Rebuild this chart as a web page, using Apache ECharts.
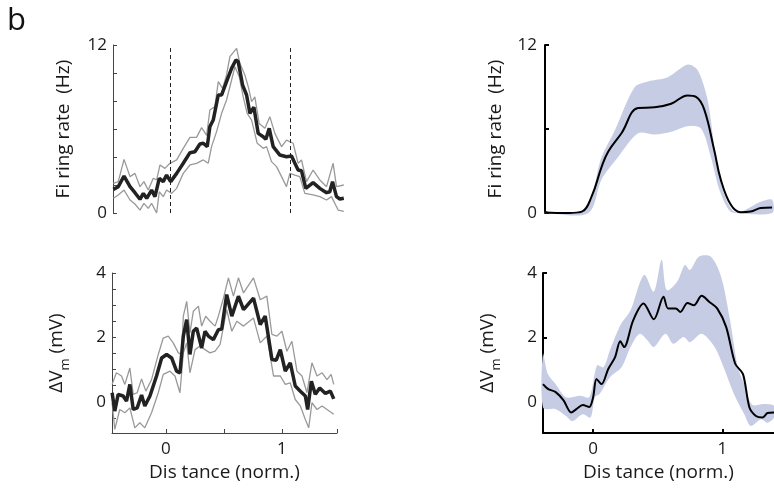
<!DOCTYPE html>
<html>
<head>
<meta charset="utf-8">
<script src="https://cdn.jsdelivr.net/npm/echarts@6/dist/echarts.min.js"></script>
<style>
html, body { margin: 0; padding: 0; background: #fff; }
#map { width: 774px; height: 491px; }
</style>
</head>
<body>
<div id="map"></div>
<script>
// top left: firing rate, mean and the two gray lines
let rateMean = [[-0.472,1.69],[-0.431,1.88],[-0.383,2.64],[-0.333,1.88],[-0.292,1.45],[-0.25,0.98],[-0.222,1.4],[-0.194,1.05],[-0.153,1.64],[-0.125,1.17],[-0.089,2.48],[-0.056,2.24],[-0.028,2.71],[0.006,2.24],[0.056,2.83],[0.111,3.55],[0.167,4.31],[0.208,4.38],[0.25,4.93],[0.278,4.98],[0.311,4.74],[0.333,6.17],[0.361,6.64],[0.403,8.43],[0.431,8.43],[0.472,9.38],[0.514,10.33],[0.55,10.93],[0.569,10.81],[0.606,9.14],[0.639,8.43],[0.667,7.12],[0.7,7.55],[0.736,5.69],[0.778,5.45],[0.8,5.26],[0.828,6.05],[0.861,4.74],[0.917,4.14],[0.972,4.02],[1.014,4.07],[1.042,3.55],[1.069,3.07],[1.097,3.02],[1.133,1.76],[1.194,2.17],[1.25,1.76],[1.306,1.45],[1.333,1.52],[1.356,2.24],[1.389,1.17],[1.417,1.0],[1.45,1.05]];
let rateHigh = [[-0.472,2.12],[-0.431,2.24],[-0.383,3.83],[-0.333,2.6],[-0.292,2.83],[-0.25,1.88],[-0.217,2.24],[-0.181,1.64],[-0.139,2.48],[-0.111,2.36],[-0.083,3.43],[-0.042,3.19],[0,3.55],[0.056,3.79],[0.111,4.62],[0.167,5.4],[0.222,5.4],[0.264,6.1],[0.306,5.55],[0.333,7.36],[0.375,7.6],[0.403,9.38],[0.439,8.9],[0.472,9.86],[0.5,11.17],[0.556,11.76],[0.583,10.69],[0.625,9.86],[0.653,9.02],[0.681,7.95],[0.708,8.3],[0.744,6.4],[0.792,6.05],[0.833,6.88],[0.875,5.69],[0.931,4.74],[0.972,5.21],[1.028,4.98],[1.069,3.55],[1.097,3.79],[1.139,2.24],[1.194,3.07],[1.25,2.36],[1.306,1.88],[1.361,3.55],[1.389,1.88],[1.45,2.0]];
let rateLow = [[-0.472,1.05],[-0.431,1.29],[-0.383,1.64],[-0.333,0.93],[-0.292,0.64],[-0.25,0.21],[-0.217,0.69],[-0.181,0.33],[-0.153,0.69],[-0.111,0.0],[-0.089,1.52],[-0.056,1.17],[-0.028,1.64],[0.014,1.4],[0.056,1.76],[0.111,2.83],[0.167,3.43],[0.222,3.55],[0.278,3.79],[0.319,3.55],[0.347,4.74],[0.389,5.81],[0.431,7.12],[0.472,8.07],[0.514,9.5],[0.542,10.45],[0.578,9.74],[0.611,8.3],[0.644,7.12],[0.681,6.64],[0.728,4.98],[0.778,4.62],[0.806,4.74],[0.847,3.67],[0.889,3.31],[0.931,2.6],[0.972,1.88],[1.0,2.83],[1.042,2.71],[1.083,2.6],[1.125,1.4],[1.194,1.29],[1.25,1.17],[1.306,0.93],[1.347,1.17],[1.403,0.21],[1.45,0.12]];

// bottom left: delta Vm
let vmMean = [[-0.464,0.28],[-0.441,-0.29],[-0.412,0.23],[-0.369,0.18],[-0.34,0.02],[-0.311,0.54],[-0.282,-0.24],[-0.248,-0.19],[-0.21,0.21],[-0.182,-0.13],[-0.138,0.18],[-0.081,0.8],[-0.037,1.36],[0.006,1.47],[0.049,1.36],[0.092,0.95],[0.121,0.9],[0.15,2.04],[0.179,2.55],[0.207,1.47],[0.236,2.19],[0.265,2.29],[0.308,1.67],[0.337,2.19],[0.366,2.04],[0.409,1.93],[0.452,2.24],[0.481,2.26],[0.524,3.33],[0.568,2.66],[0.625,3.28],[0.669,2.86],[0.755,3.22],[0.813,2.4],[0.856,2.66],[0.914,1.31],[0.951,1.29],[0.986,1.62],[1.029,0.95],[1.072,1.21],[1.115,0.49],[1.159,0.33],[1.202,0.18],[1.222,-0.24],[1.254,0.64],[1.288,0.23],[1.326,0.43],[1.375,0.26],[1.418,0.33],[1.447,0.09]];
let vmHigh = [[-0.464,0.54],[-0.427,0.9],[-0.383,0.8],[-0.354,0.54],[-0.311,1.05],[-0.282,0.23],[-0.248,0.28],[-0.21,0.71],[-0.173,0.33],[-0.124,0.69],[-0.066,1.47],[-0.023,1.98],[0.02,2.04],[0.063,1.83],[0.107,1.52],[0.135,1.47],[0.15,2.66],[0.179,3.12],[0.207,2.14],[0.236,2.81],[0.28,2.97],[0.308,2.35],[0.343,2.66],[0.38,2.5],[0.424,2.35],[0.452,2.66],[0.496,3.22],[0.539,3.85],[0.582,3.28],[0.625,3.85],[0.669,3.38],[0.755,3.85],[0.813,3.17],[0.87,3.28],[0.914,2.09],[0.957,2.04],[1.0,2.19],[1.043,1.57],[1.086,1.88],[1.13,0.95],[1.173,0.8],[1.216,0.28],[1.259,1.21],[1.303,0.8],[1.346,0.9],[1.389,0.69],[1.424,0.85],[1.447,0.54]];
let vmLow = [[-0.464,-0.03],[-0.441,-0.86],[-0.398,-0.24],[-0.354,-0.34],[-0.311,-0.19],[-0.268,-0.81],[-0.225,-0.65],[-0.182,-0.81],[-0.124,-0.34],[-0.066,0.28],[-0.023,0.85],[0.035,0.95],[0.078,0.8],[0.121,0.28],[0.15,1.52],[0.179,1.83],[0.207,0.9],[0.251,1.62],[0.294,1.73],[0.337,1.62],[0.38,1.52],[0.424,1.57],[0.467,1.78],[0.524,2.86],[0.568,2.19],[0.611,2.5],[0.669,2.35],[0.755,2.6],[0.813,1.83],[0.87,2.04],[0.928,0.8],[0.986,0.8],[1.029,0.54],[1.072,0.59],[1.115,0.07],[1.159,-0.13],[1.202,-0.55],[1.231,-0.81],[1.259,-0.03],[1.303,-0.24],[1.346,-0.13],[1.389,-0.24],[1.447,-0.39]];

// top right: model firing rate with band
let modelRate = [[-0.388,0.1],[-0.36,0.02],[-0.2,0],[-0.1,0.1],[-0.023,1.2],[0.054,3.3],[0.106,4.4],[0.209,5.7],[0.339,7.5],[0.468,7.55],[0.597,7.8],[0.726,8.4],[0.791,8.3],[0.855,7.4],[0.933,4.5],[0.984,2.4],[1.062,0.6],[1.14,0.05],[1.217,0.1],[1.295,0.35],[1.385,0.4]];
let modelRateHigh = [[-0.388,0.1],[-0.08,0.15],[0.054,4.0],[0.157,5.9],[0.313,9.0],[0.416,9.4],[0.571,9.7],[0.726,10.6],[0.804,10.2],[0.881,8.1],[0.946,4.0],[1.01,1.4],[1.088,0.1],[1.17,0.2],[1.295,0.8],[1.385,0.95]];
let modelRateLow = [[-0.388,0],[-0.05,0],[0.054,2.4],[0.183,4.0],[0.339,5.7],[0.468,5.6],[0.597,5.8],[0.726,6.2],[0.829,6.05],[0.907,4.0],[0.972,1.7],[1.049,0.2],[1.1,0],[1.385,0]];

// bottom right: model delta Vm with band
let modelVm = [[-0.388,0.55],[-0.35,0.4],[-0.29,0.3],[-0.23,0.05],[-0.17,-0.33],[-0.13,-0.23],[-0.08,-0.1],[-0.03,-0.16],[0.0,0.14],[0.026,0.71],[0.065,0.55],[0.117,1.02],[0.17,1.39],[0.21,1.88],[0.24,1.7],[0.31,2.53],[0.39,3.05],[0.47,2.56],[0.545,3.26],[0.58,2.9],[0.64,2.9],[0.675,2.79],[0.73,3.07],[0.78,3.0],[0.84,3.29],[0.9,3.1],[0.96,2.9],[1.03,2.32],[1.1,1.18],[1.16,0.86],[1.21,-0.18],[1.26,-0.44],[1.31,-0.49],[1.35,-0.35],[1.4,-0.33]];
let modelVmHigh = [[-0.388,1.49],[-0.35,0.86],[-0.29,0.55],[-0.21,0.14],[-0.1,0.19],[-0.03,0.14],[0.03,1.13],[0.08,1.07],[0.13,1.6],[0.21,2.38],[0.29,2.84],[0.36,3.68],[0.4,3.94],[0.47,3.42],[0.53,4.41],[0.57,3.47],[0.65,3.73],[0.71,4.25],[0.75,4.09],[0.82,4.51],[0.91,4.51],[0.99,3.89],[1.06,2.53],[1.12,1.07],[1.17,0.55],[1.23,-0.09],[1.32,-0.07],[1.4,-0.13]];
let modelVmLow = [[-0.388,-0.18],[-0.29,-0.23],[-0.21,-0.44],[-0.16,-0.6],[-0.08,-0.39],[-0.02,-0.49],[0.013,0.14],[0.05,0.24],[0.13,0.76],[0.22,1.07],[0.29,1.7],[0.36,2.11],[0.42,1.91],[0.47,1.7],[0.56,2.11],[0.62,1.8],[0.7,2.01],[0.75,1.85],[0.84,2.11],[0.94,1.7],[1.01,1.07],[1.09,0.24],[1.17,-0.39],[1.22,-0.75],[1.3,-0.54],[1.35,-0.65],[1.4,-0.49]];

let rateTicks = [0, 2, 4, 6, 8, 10, 12];
let vmTicks = [-0.5, 0, 0.5, 1, 1.5, 2, 2.5, 3, 3.5, 4];

let font = 'Open Sans';
let gray = '#444';
let bandColor = '#c6cce4';

let myChart = echarts.init(document.getElementById('map'));

function yAx(i, min, max, ticks, labels, name, col, w, gap) {
    return {
        gridIndex: i, type: 'value', min: min, max: max,
        axisLine: { show: true, onZero: false, lineStyle: { color: col, width: w } },
        axisTick: { show: true, inside: true, length: 4, customValues: ticks, lineStyle: { color: col, width: w } },
        axisLabel: { customValues: labels, fontSize: 17, color: '#1a1a1a', fontFamily: font, margin: gap },
        splitLine: { show: false },
        name: name, nameLocation: 'middle', nameGap: 40,
        nameTextStyle: { fontSize: 19, color: '#1a1a1a', fontFamily: font,
            rich: { s: { fontSize: 13, fontFamily: font, color: '#1a1a1a', verticalAlign: 'bottom', lineHeight: 31 } } }
    };
}
function xAx(i, min, max, ticks, col, w) {
    let show = !!ticks;
    return {
        gridIndex: i, type: 'value', min: min, max: max,
        axisLine: { show: show, onZero: false, lineStyle: { color: col, width: w } },
        axisTick: { show: show, inside: true, length: 4, customValues: ticks || [], lineStyle: { color: col, width: w } },
        axisLabel: { show: show, customValues: [0, 1], fontSize: 17, color: '#1a1a1a', fontFamily: font, margin: 8 },
        splitLine: { show: false },
        name: show ? 'Dis tance (norm.)' : '', nameLocation: 'middle', nameGap: 30,
        nameTextStyle: { fontSize: 19, color: '#1a1a1a', fontFamily: font }
    };
}
function line(i, data, color, width, smooth) {
    return {
        type: 'line', xAxisIndex: i, yAxisIndex: i, data: data, symbol: 'none',
        smooth: smooth || false, z: 3, silent: true,
        lineStyle: { color: color, width: width }
    };
}
function band(i, high, low) {
    return {
        type: 'custom', xAxisIndex: i, yAxisIndex: i, silent: true, z: 1,
        data: [[0, 0]],
        renderItem(params, api) {
            let pts = high.map(p => api.coord(p)).concat(low.slice().reverse().map(p => api.coord(p)));
            return { type: 'polygon', shape: { points: pts, smooth: 0.3 }, style: { fill: bandColor } };
        }
    };
}
function dashes(s, top, bottom) {
    s.markLine = {
        silent: true, symbol: 'none', label: { show: false },
        lineStyle: { color: '#222', width: 1, type: [4, 3] },
        data: [
            [{ coord: [0, bottom] }, { coord: [0, top] }],
            [{ coord: [1, bottom] }, { coord: [1, top] }]
        ]
    };
    return s;
}

let option = {
    animation: false,
    grid: [
        { left: 113, top: 45, width: 232, height: 168 },
        { left: 112, top: 273, width: 225, height: 160 },
        { left: 545, top: 45, width: 229, height: 168 },
        { left: 543, top: 273, width: 231, height: 160 }
    ],
    xAxis: [
        xAx(0, -0.475, 1.46, null, gray, 1),
        xAx(1, -0.465, 1.475, [0, 0.5, 1, 1.475], gray, 1),
        xAx(2, -0.388, 1.4, null, '#000', 2),
        xAx(3, -0.388, 1.4, [0, 1], '#000', 2)
    ],
    yAxis: [
        yAx(0, 0, 12, rateTicks, [0, 12], 'Fi ring rate  (Hz)', gray, 1, 6),
        yAx(1, -0.97, 4, vmTicks, [0, 2, 4], 'ΔV{s|m} (mV)', gray, 1, 6),
        yAx(2, 0, 12, [0, 6, 12], [0, 12], 'Fi ring rate  (Hz)', '#000', 2, 8),
        yAx(3, -0.97, 4, [0, 2, 4], [0, 2, 4], 'ΔV{s|m} (mV)', '#000', 2, 6)
    ],
    graphic: [
        { type: 'text', left: 7, top: 6, style: { text: 'b', fontSize: 31, fontFamily: font, fill: '#111' } }
    ],
    series: [
        line(0, rateHigh, '#999', 1.3),
        line(0, rateLow, '#999', 1.3),
        dashes(line(0, rateMean, '#222', 3.5), 12, 0),
        line(1, vmHigh, '#999', 1.3),
        line(1, vmLow, '#999', 1.3),
        dashes(line(1, vmMean, '#222', 3.5), 4.25, -0.97),
        band(2, modelRateHigh, modelRateLow),
        line(2, modelRate, '#000', 2, 0.4),
        band(3, modelVmHigh, modelVmLow),
        line(3, modelVm, '#000', 2, 0.3)
    ]
};
myChart.setOption(option);
</script>
</body>
</html>
